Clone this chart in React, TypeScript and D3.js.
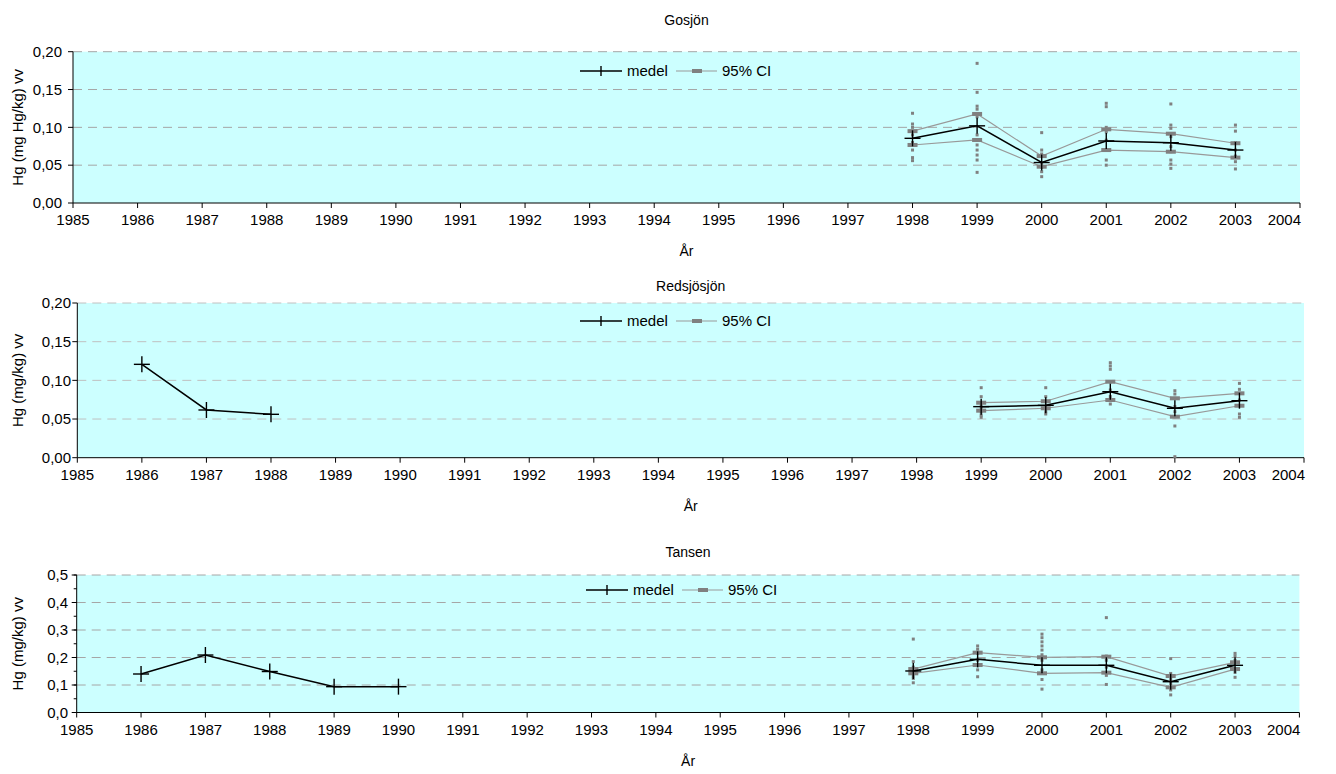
import * as d3 from 'd3';

const yearTicks = [1985, 1986, 1987, 1988, 1989, 1990, 1991, 1992, 1993, 1994, 1995, 1996, 1997, 1998, 1999, 2000, 2001, 2002, 2003, 2004];

// Gosjön
const gosYears = [1998, 1999, 2000, 2001, 2002, 2003];
const gosMean = [0.0855, 0.102, 0.0535, 0.082, 0.0797, 0.070];
const gosUpper = [0.095, 0.1177, 0.062, 0.0974, 0.0916, 0.079];
const gosLower = [0.0767, 0.0833, 0.048, 0.070, 0.0678, 0.060];
const gosFish = [
  [0.1186, 0.1044, 0.100, 0.090, 0.080, 0.070, 0.060, 0.056],
  [0.1846, 0.1463, 0.128, 0.124, 0.114, 0.090, 0.0767, 0.070, 0.0634, 0.0568, 0.0405],
  [0.093, 0.070, 0.0648, 0.0524, 0.047, 0.0414, 0.0348],
  [0.1318, 0.1273, 0.100, 0.094, 0.083, 0.070, 0.0568, 0.050],
  [0.1309, 0.103, 0.0987, 0.0877, 0.0745, 0.0678, 0.0568, 0.0515, 0.0458],
  [0.103, 0.095, 0.080, 0.070, 0.062, 0.0546, 0.045],
];

// Redsjösjön
const redEarlyYears = [1986, 1987, 1988];
const redEarlyMean = [0.1207, 0.0617, 0.0561];
const redYears = [1999, 2000, 2001, 2002, 2003];
const redMean = [0.066, 0.0677, 0.0853, 0.0639, 0.0737];
const redUpper = [0.0711, 0.073, 0.0983, 0.0768, 0.0832];
const redLower = [0.0608, 0.0639, 0.0746, 0.053, 0.0672];
const redFish = [
  [0.0905, 0.0789, 0.068, 0.064, 0.0595, 0.0552, 0.0522],
  [0.0905, 0.0789, 0.0724, 0.066, 0.0595, 0.0565],
  [0.1228, 0.1186, 0.1143, 0.098, 0.0875, 0.079, 0.0746, 0.0694],
  [0.0866, 0.0823, 0.0768, 0.066, 0.0595, 0.053, 0.041, 0.0013],
  [0.0961, 0.0884, 0.0832, 0.0746, 0.0672, 0.0565, 0.0522],
];

// Tansen
const tanEarlyYears = [1986, 1987, 1988, 1989, 1990];
const tanEarlyMean = [0.14, 0.209, 0.149, 0.094, 0.094];
const tanYears = [1998, 1999, 2000, 2001, 2002, 2003];
const tanMean = [0.151, 0.1934, 0.1716, 0.1716, 0.112, 0.1716];
const tanUpper = [0.158, 0.2176, 0.2007, 0.203, 0.1327, 0.1825];
const tanLower = [0.1425, 0.1727, 0.1425, 0.1448, 0.0915, 0.158];
const tanFish = [
  [0.267, 0.185, 0.165, 0.145, 0.133, 0.124, 0.108],
  [0.242, 0.23, 0.215, 0.19, 0.17, 0.155, 0.13],
  [0.285, 0.272, 0.257, 0.242, 0.227, 0.21, 0.19, 0.155, 0.12, 0.085],
  [0.345, 0.205, 0.19, 0.165, 0.135, 0.102],
  [0.196, 0.142, 0.12, 0.105, 0.082, 0.064],
  [0.215, 0.205, 0.19, 0.16, 0.146, 0.128],
];

const FONT = '"Liberation Sans", Arial, sans-serif';
const CYAN = '#ccffff';
const GRAY = '#808080';

function Plus({ x, y, s = 8 }) {
  return (
    <g stroke="#000" strokeWidth={1.4}>
      <line x1={x - s} x2={x + s} y1={y} y2={y} />
      <line x1={x} x2={x} y1={y - s} y2={y + s} />
    </g>
  );
}

function Panel(props) {
  const { title, left, right, top, bottom, yMax, yStep, decimals, minorStep, yLabel,
    titleY, yLabelX, yTickEnd, legendX, legendY, gridColor,
    early, years, mean, upper, lower, fish } = props;

  const x = d3.scaleLinear().domain([1985, 2004]).range([left, right]);
  const y = d3.scaleLinear().domain([0, yMax]).range([bottom, top]);
  const yTicks = d3.range(0, yMax + yStep / 2, yStep);
  const minor = minorStep ? d3.range(0, yMax + minorStep / 2, minorStep) : [];
  const fmt = (v) => v.toFixed(decimals).replace('.', ',');

  const line = d3.line().x((d) => x(d[0])).y((d) => y(d[1]));
  const zip = (a, b) => a.map((v, i) => [v, b[i]]);
  const cx = (left + right) / 2;

  return (
    <g fontFamily={FONT} fill="#000">
      <text x={cx} y={titleY} textAnchor="middle" fontSize={14}>{title}</text>
      <rect x={left} y={top} width={right - left} height={bottom - top} fill={CYAN} />
      {yTicks.filter((t) => t > 0).map((t) => (
        <line key={t} x1={left} x2={right} y1={y(t)} y2={y(t)} stroke={gridColor} strokeDasharray="9,6" />
      ))}

      {/* axes */}
      <line x1={left} x2={left} y1={top} y2={bottom} stroke="#000" />
      <line x1={left} x2={right} y1={bottom} y2={bottom} stroke="#000" />
      {minor.map((t) => (
        <line key={'m' + t} x1={left - 3} x2={left} y1={y(t)} y2={y(t)} stroke="#000" />
      ))}
      {yTicks.map((t) => (
        <g key={t}>
          <line x1={left - 5} x2={left} y1={y(t)} y2={y(t)} stroke="#000" />
          <text x={yTickEnd} y={y(t)} dy="0.35em" textAnchor="end" fontSize={15}>{fmt(t)}</text>
        </g>
      ))}
      {yearTicks.map((t, i) => (
        <g key={t}>
          <line x1={x(t)} x2={x(t)} y1={bottom} y2={bottom + 5} stroke="#000" />
          <text x={i === yearTicks.length - 1 ? right + 1 : x(t)} y={bottom + 22}
            textAnchor={i === yearTicks.length - 1 ? 'end' : 'middle'} fontSize={15}>{t}</text>
        </g>
      ))}
      <text x={cx} y={bottom + 53} textAnchor="middle" fontSize={14}>År</text>
      <text transform={`translate(${yLabelX},${(top + bottom) / 2}) rotate(-90)`} textAnchor="middle" fontSize={15}>{yLabel}</text>

      {/* individual fish */}
      {fish.map((vals, i) => vals.map((v, j) => (
        <rect key={i + '-' + j} x={x(years[i]) - 1.5} y={y(v) - 1.5} width={3} height={3} fill={GRAY} />
      )))}

      {/* 95% CI */}
      <path d={line(zip(years, upper))} fill="none" stroke="#999" strokeWidth={1.2} />
      <path d={line(zip(years, lower))} fill="none" stroke="#999" strokeWidth={1.2} />
      {[...upper, ...lower].map((v, i) => (
        <rect key={'ci' + i} x={x(years[i % years.length]) - 5} y={y(v) - 2} width={10} height={4} fill={GRAY} />
      ))}

      {/* medel */}
      {early && <path d={line(zip(early.years, early.mean))} fill="none" stroke="#000" strokeWidth={1.5} />}
      {early && early.years.map((yr, i) => <Plus key={'e' + yr} x={x(yr)} y={y(early.mean[i])} />)}
      <path d={line(zip(years, mean))} fill="none" stroke="#000" strokeWidth={1.5} />
      {years.map((yr, i) => <Plus key={'p' + yr} x={x(yr)} y={y(mean[i])} />)}

      {/* legend */}
      <g>
        <line x1={legendX} x2={legendX + 42} y1={legendY} y2={legendY} stroke="#000" strokeWidth={1.4} />
        <line x1={legendX + 21} x2={legendX + 21} y1={legendY - 5} y2={legendY + 5} stroke="#000" strokeWidth={1.4} />
        <text x={legendX + 47} y={legendY} dy="0.35em" fontSize={15}>medel</text>
        <line x1={legendX + 96} x2={legendX + 137} y1={legendY} y2={legendY} stroke="#999" strokeWidth={1.2} />
        <rect x={legendX + 112} y={legendY - 2} width={10} height={4} fill={GRAY} />
        <text x={legendX + 142} y={legendY} dy="0.35em" fontSize={15}>95% CI</text>
      </g>
    </g>
  );
}

export default function App() {
  return (
    <svg width={1336} height={774} style={{ position: 'absolute', left: 0, top: 0, background: '#fff' }}>
      <Panel title="Gosjön" left={73} right={1300} top={51.7} bottom={203} yMax={0.2} yStep={0.05} decimals={2}
        yLabel="Hg (mg Hg/kg) vv" titleY={25} yLabelX={23} yTickEnd={62} legendX={580} legendY={71} gridColor="#a6a6a6"
        years={gosYears} mean={gosMean} upper={gosUpper} lower={gosLower} fish={gosFish} />
      <Panel title="Redsjösjön" left={77.3} right={1304} top={303} bottom={457.7} yMax={0.2} yStep={0.05} decimals={2}
        yLabel="Hg (mg/kg) vv" titleY={291} yLabelX={23} yTickEnd={71} legendX={580} legendY={321} gridColor="#c0c0c0"
        early={{ years: redEarlyYears, mean: redEarlyMean }}
        years={redYears} mean={redMean} upper={redUpper} lower={redLower} fish={redFish} />
      <Panel title="Tansen" left={76.7} right={1299.4} top={575} bottom={712.5} yMax={0.5} yStep={0.1} decimals={1} minorStep={0.05}
        yLabel="Hg (mg/kg) vv" titleY={557} yLabelX={23} yTickEnd={68} legendX={586} legendY={590} gridColor="#a6a6a6"
        early={{ years: tanEarlyYears, mean: tanEarlyMean }}
        years={tanYears} mean={tanMean} upper={tanUpper} lower={tanLower} fish={tanFish} />
    </svg>
  );
}
